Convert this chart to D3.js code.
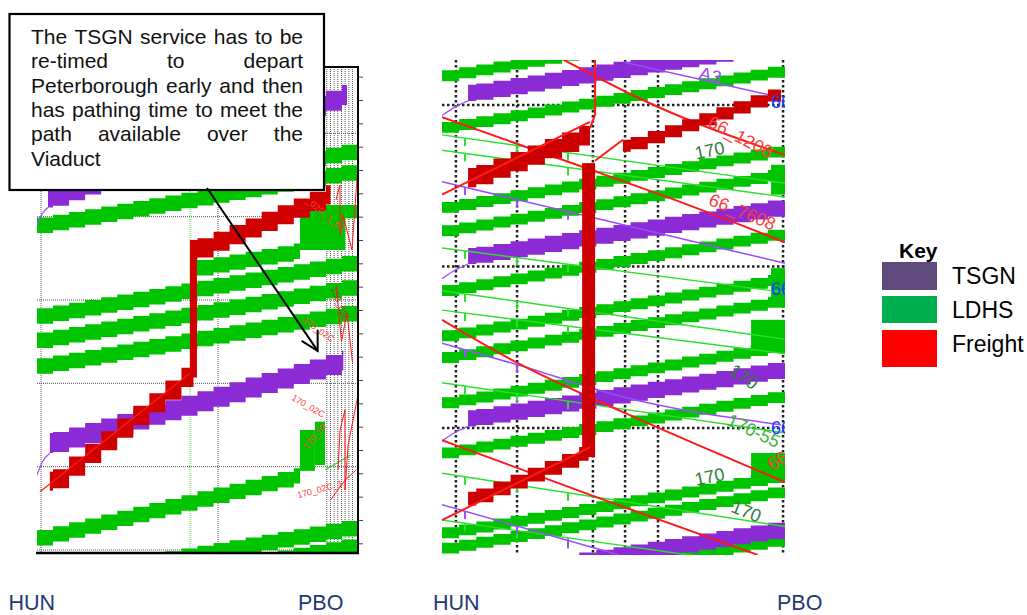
<!DOCTYPE html>
<html>
<head>
<meta charset="utf-8">
<script src="https://cdn.jsdelivr.net/npm/d3@7/dist/d3.min.js"></script>
<style>
html,body{margin:0;padding:0;background:#fff;}
svg{display:block;}
text{font-family:"Liberation Sans",Arial,Helvetica,sans-serif;}
</style>
</head>
<body>
<svg id="chart" width="1027" height="615"></svg>
<script>
// ================= DATA (miles from HUN, minutes) =================
const stationNames = ["HUN", "PBO"];
const routeMiles = [0, 17.5];
const stairMiles = [0, 0.875, 1.75, 2.625, 3.5, 4.375, 5.25, 6.125, 7, 7.875, 8.75,
  9.625, 10.5, 11.375, 12.25, 13.125, 14, 14.875, 15.75, 16.625, 17.5];

// ---- left panel ----
const leftGridTimes = [10, 20, 30, 40, 50, 60];
const leftGridMiles = [0.22, 9.87, 15.8, 16.0, 16.2, 16.4, 16.6, 16.8, 17.0, 17.2];
const leftTimingPointMiles = [8.34];
const leftEdgeTicks = [3.2, 6.0, 8.8, 11.6, 14.4, 17.2, 20.0, 22.8, 25.6, 28.4, 31.2,
  34.0, 36.8, 39.6, 42.4, 45.2, 48.0, 50.8, 53.6, 56.4, 59.2];
const leftLdhsPaths = [
  [[0, 20.1], [17.5, 13.5]],
  [[9.0, 14.6], [17.5, 11.0]],
  [[8.7, 25.2], [14.34, 23.1]],
  [[0, 31.0], [17.5, 24.4]],
  [[0, 33.9], [17.5, 27.3]],
  [[0, 37.0], [17.5, 30.4]],
  [[0, 57.6], [14.34, 50.0]],
  [[0, 62.8], [17.5, 56.2]],
  [[0, 65.0], [17.5, 58.4]]
];
const leftLdhsBlocks = [[14.34, 16.8, 18.6, 24.0], [16.8, 17.5, 18.6, 20.2],
  [14.34, 15.15, 45.6, 50.5], [15.15, 15.7, 44.6, 49.8]];
const leftTsgnPaths = [
  [[0.6, 16.5], [16.9, 4.0]],
  [[0.7, 45.96], [16.7, 36.0]]
];
const leftTsgnLeads = [
  [[0, 21.0], [0.3, 19.6], [0.6, 18.9]],
  [[0, 51.0], [0.3, 49.4], [0.7, 48.4]]
];
const leftFreightPath = [[0.7, 50.6], [8.53, 37.0], [8.53, 22.8], [16.0, 16.0]];
const leftPlannedFreight = [[0.16, 53.0], [8.34, 38.8]];
const leftRedTraces = [
  [[17.5, 13.8], [16.52, 16.2], [16.3, 18.0], [16.68, 19.8], [16.52, 22.2], [17.17, 24.0]],
  [[17.5, 41.4], [16.79, 43.2], [16.52, 45.6], [16.96, 47.4], [16.41, 50.4], [16.79, 52.8], [17.5, 54.0]],
  [[16.0, 54.0], [16.8, 51.6], [17.4, 50.4]],
  [[16.3, 28.0], [16.9, 31.5], [16.6, 35.0], [17.2, 37.5]]
];
const leftGreenTraces = [[[15.7, 50.4], [17.1, 48.6]]];
const leftArrowTarget = [15.3, 36.1];
const leftLabels = [
  [15.32, 33.6, "170_02C"], [14.77, 42.8, "170_02C"], [15.16, 46.4, "170_02"],
  [15.43, 52.8, "170_02C_1"], [15.7, 19.8, "_02C_1_02"], [16.5, 30.6, "153_02G"]
];

// ---- right panel ----
const rightGridTimes = [20, 40, 60];
const rightGridMiles = [0.71, 3.83, 7.7, 9.34, 11.02, 17.4];
const rightLdhsPaths = [
  [[0, 15.7], [17.5, 8.5]], [[0, 22.1], [17.5, 14.9]], [[0, 32.0], [17.5, 24.8]],
  [[0, 34.9], [17.5, 27.7]], [[0, 42.3], [17.5, 35.1]], [[0, 47.9], [17.5, 40.7]],
  [[0, 50.6], [17.5, 43.4]], [[0, 56.2], [17.5, 49.0]], [[0, 62.4], [17.5, 55.2]],
  [[0, 72.3], [17.5, 65.1]], [[0, 74.2], [17.5, 67.0]], [[0, 80.2], [17.5, 73.0]]
];
const rightLdhsBlocks = [[16.79, 17.5, 27.4, 31.1], [16.79, 17.5, 40.2, 44.8],
  [15.77, 17.5, 46.6, 50.3], [15.77, 17.5, 63.1, 66.4]];
const rightTsgnPaths = [
  [[1.33, 17.5], [17.5, 11.3]], [[1.33, 37.7], [17.5, 31.5]],
  [[1.33, 57.8], [17.5, 51.6]], [[1.33, 77.6], [17.5, 71.4]]
];
const rightTsgnLeads = [
  [[0, 21.3], [0.7, 20.2], [1.33, 19.5]],
  [[0, 41.5], [0.7, 40.4], [1.33, 39.7]],
  [[0, 61.6], [0.7, 60.5], [1.33, 59.8]]
];
const rightFreightPaths = [
  [[1.33, 27.8], [7.55, 22.1]],
  [[1.33, 67.9], [7.48, 61.9], [7.48, 27.2]],
  [[9.23, 24.3], [17.3, 17.5]]
];
const rightFreightOccupation = [2.4, 1.7, 1.5];
const rightRedConnectors = [
  [[7.55, 22.9], [7.81, 21.2], [7.81, 14.0]],
  [[7.81, 26.9], [9.23, 24.3]],
  [[0, 31.1], [7.55, 22.1]],
  [[0, 71.4], [7.55, 62.4]]
];
const rightRedTraces = [
  [[0, 21.5], [4.4, 25.3], [7.8, 28.2], [11.7, 31.6], [17.5, 37.0]],
  [[6.2, 14.4], [10.8, 20.0], [17.5, 26.2]],
  [[0, 46.6], [3.9, 52.0], [9.3, 58.1], [17.5, 66.7]],
  [[0, 61.5], [7.8, 68.5], [16.1, 75.7]]
];
const rightPurpleTraces = [
  [[0, 29.5], [7.8, 34.0], [17.5, 39.6]],
  [[9.3, 14.7], [16.8, 18.8]],
  [[0, 49.5], [3.9, 52.2], [9.3, 56.2], [17.3, 59.6]],
  [[0, 69.5], [9.0, 75.7]]
];
const rightGreenTraces = [
  [[0, 23.7], [17.5, 29.7]], [[0, 25.6], [17.5, 31.4]], [[0, 37.7], [17.5, 43.2]],
  [[0, 43.0], [17.5, 49.0]], [[0, 45.4], [17.5, 50.8]], [[0, 54.4], [17.5, 60.6]],
  [[0, 65.6], [17.5, 72.2]], [[0, 71.4], [17.5, 77.4]]
];
const traceTickMiles = [1.17, 3.83, 6.43];
const rightLabels = [
  [13.67, 25.8, "170"], [13.67, 66.2, "170"], [15.36, 53.8, "170"], [15.5, 70.5, "170"],
  [15.87, 60.5, "170-55"], [15.2, 24.1, "66_1208"], [15.3, 33.4, "66_7608"],
  [13.67, 16.5, "A3"], [17.14, 64.2, "66"], [17.3, 60.2, "66"], [17.3, 19.75, "66"], [17.3, 42.9, "66"]
];

// ---- key & annotation ----
const keyLabels = ["TSGN", "LDHS", "Freight"];
const keyColors = ["#604A7B", "#00B050", "#FF0000"];
const calloutLines = [
  "The TSGN service has to be",
  "re-timed to depart",
  "Peterborough early and then",
  "has pathing time to meet the",
  "path available over the",
  "Viaduct"
];

// ================= STYLE (layout & colours) =================
const COL = {
  ldhs: "#00C400", tsgn: "#8A2BD6", freight: "#CC0000",
  redLine: "#FF1A1A", greenLine: "#2BE02B", purpleLine: "#9A4CFF",
  darkGreen: "#2F7D3A", label: "#FF3B3B", blue: "#1A3CFF"
};
const leftLabelStyle = [[35, COL.label], [30, COL.label], [-50, COL.label], [-15, COL.label], [40, COL.label], [70, "#A33"]];
const rightLabelStyle = [
  [-12, COL.darkGreen], [-12, COL.darkGreen], [35, COL.darkGreen], [22, COL.darkGreen],
  [25, "#3CB43C"], [28, COL.label], [22, COL.label], [15, COL.purpleLine],
  [-30, COL.label], [0, COL.blue], [0, COL.blue], [0, COL.blue]
];
const stationLabelX = [[8.5, 298], [433, 777]];

const svg = d3.select("#chart");
const defs = svg.append("defs");
defs.append("clipPath").attr("id", "clipL").append("rect")
  .attr("x", 37).attr("y", 67).attr("width", 321).attr("height", 486);
defs.append("clipPath").attr("id", "clipR").append("rect")
  .attr("x", 442).attr("y", 60).attr("width", 343).attr("height", 495);

const xL = d3.scaleLinear().domain(routeMiles).range([37, 358]);
const yL = d3.scaleLinear().domain([10, 60]).range([133.33, 550]);
const xR = d3.scaleLinear().domain(routeMiles).range([442, 785]);
const yR = d3.scaleLinear().domain([20, 60]).range([105, 428]);

function stairBand(g, xs, ys, pts, w, color, barW) {
  for (let i = 0; i < pts.length - 1; i++) {
    const [m0, t0] = pts[i], [m1, t1] = pts[i + 1];
    if (m0 === m1) {
      const tTop = Math.min(t0, t1), tBot = Math.max(t0, t1) + w;
      g.append("rect").attr("x", xs(m0) - barW / 2).attr("width", barW)
        .attr("y", ys(tTop)).attr("height", ys(tBot) - ys(tTop)).attr("fill", color);
      continue;
    }
    const lo = Math.min(m0, m1), hi = Math.max(m0, m1);
    const ms = [lo, ...stairMiles.filter(s => s > lo + 0.05 && s < hi - 0.05), hi];
    const pos = ms.map(m => ({ m, t: t0 + (t1 - t0) * (m - m0) / (m1 - m0) }));
    g.append("path").datum(pos)
      .attr("d", d3.area().x(d => xs(d.m)).y0(d => ys(d.t)).y1(d => ys(d.t + w)).curve(d3.curveStepAfter))
      .attr("fill", color);
  }
}
function blocks(g, xs, ys, data, color) {
  g.selectAll(null).data(data).enter().append("rect")
    .attr("x", d => xs(d[0])).attr("width", d => xs(d[1]) - xs(d[0]))
    .attr("y", d => ys(d[2])).attr("height", d => ys(d[3]) - ys(d[2]))
    .attr("fill", color);
}
function traces(g, xs, ys, data, color, width, curved) {
  const ln = d3.line().x(d => xs(d[0])).y(d => ys(d[1])).curve(curved ? d3.curveMonotoneX : d3.curveLinear);
  g.selectAll(null).data(data).enter().append("path")
    .attr("d", d => ln(d.slice().sort((a, b) => a[0] - b[0])))
    .attr("fill", "none").attr("stroke", color).attr("stroke-width", width);
}
function traceTicks(g, xs, ys, data, color) {
  data.forEach(p => {
    traceTickMiles.forEach(m => {
      if (m <= p[0][0] || m >= p[p.length - 1][0]) return;
      let t = null;
      for (let i = 0; i < p.length - 1; i++) {
        if (m >= p[i][0] && m <= p[i + 1][0]) t = p[i][1] + (p[i + 1][1] - p[i][1]) * (m - p[i][0]) / (p[i + 1][0] - p[i][0]);
      }
      if (t === null) return;
      g.append("line").attr("x1", xs(m)).attr("x2", xs(m)).attr("y1", ys(t)).attr("y2", ys(t) + 8)
        .attr("stroke", color).attr("stroke-width", 2);
    });
  });
}
function labels(g, xs, ys, data, style, size) {
  data.forEach((d, i) => {
    g.append("text").attr("transform", `translate(${xs(d[0])},${ys(d[1])}) rotate(${style[i][0]})`)
      .attr("text-anchor", "middle").attr("dominant-baseline", "middle")
      .attr("font-size", size).attr("fill", style[i][1]).text(d[2]);
  });
}

// ================= LEFT PANEL =================
const gL = svg.append("g").attr("clip-path", "url(#clipL)");
gL.selectAll(null).data(leftGridTimes).enter().append("line")
  .attr("x1", 37).attr("x2", 358).attr("y1", d => yL(d)).attr("y2", d => yL(d))
  .attr("stroke", "#555").attr("stroke-width", 1).attr("stroke-dasharray", "1,1");
gL.selectAll(null).data(leftGridMiles).enter().append("line")
  .attr("x1", d => xL(d)).attr("x2", d => xL(d)).attr("y1", 67).attr("y2", 553)
  .attr("stroke", "#555").attr("stroke-width", 1).attr("stroke-dasharray", "1,1");
gL.selectAll(null).data(leftTimingPointMiles).enter().append("line")
  .attr("x1", d => xL(d)).attr("x2", d => xL(d)).attr("y1", 67).attr("y2", 553)
  .attr("stroke", "#33DD33").attr("stroke-width", 1).attr("stroke-dasharray", "1,1");

leftLdhsPaths.forEach(p => stairBand(gL, xL, yL, p, 1.85, COL.ldhs, 7));
blocks(gL, xL, yL, leftLdhsBlocks, COL.ldhs);
leftTsgnPaths.forEach(p => stairBand(gL, xL, yL, p, 2.4, COL.tsgn, 7));
traces(gL, xL, yL, leftTsgnLeads, COL.purpleLine, 1.2, true);
traces(gL, xL, yL, leftGreenTraces, COL.greenLine, 1.2, false);
traces(gL, xL, yL, leftRedTraces, COL.redLine, 1, false);
stairBand(gL, xL, yL, leftFreightPath, 2.3, "#D00000", 7);
traces(gL, xL, yL, [leftPlannedFreight], COL.redLine, 1.3, false);
labels(gL, xL, yL, leftLabels, leftLabelStyle, 9);

// frame
const frame = svg.append("g");
frame.append("line").attr("x1", 36).attr("x2", 359).attr("y1", 67).attr("y2", 67).attr("stroke", "#000").attr("stroke-width", 2);
frame.append("line").attr("x1", 358).attr("x2", 358).attr("y1", 66).attr("y2", 554).attr("stroke", "#000").attr("stroke-width", 2);
frame.append("line").attr("x1", 36).attr("x2", 359).attr("y1", 553).attr("y2", 553).attr("stroke", "#000").attr("stroke-width", 2.5);
const edgeAxis = frame.append("g").attr("transform", "translate(359,0)")
  .call(d3.axisRight(yL).tickValues(leftEdgeTicks).tickSize(4).tickFormat(""));
edgeAxis.select(".domain").remove();
edgeAxis.selectAll("line").attr("stroke", "#444");

// ================= RIGHT PANEL =================
const gR = svg.append("g").attr("clip-path", "url(#clipR)");
gR.selectAll(null).data(rightGridTimes).enter().append("line")
  .attr("x1", 442).attr("x2", 785).attr("y1", d => yR(d)).attr("y2", d => yR(d))
  .attr("stroke", "#222").attr("stroke-width", 2.5).attr("stroke-dasharray", "2.5,2.5");
gR.selectAll(null).data(rightGridMiles).enter().append("line")
  .attr("x1", d => xR(d)).attr("x2", d => xR(d)).attr("y1", 60).attr("y2", 555)
  .attr("stroke", "#222").attr("stroke-width", 2.5).attr("stroke-dasharray", "2.5,2.5");

rightLdhsPaths.forEach(p => stairBand(gR, xR, yR, p, 1.35, COL.ldhs, 7));
blocks(gR, xR, yR, rightLdhsBlocks, COL.ldhs);
rightTsgnPaths.forEach(p => stairBand(gR, xR, yR, p, 2.0, COL.tsgn, 7));
traces(gR, xR, yR, rightTsgnLeads, COL.purpleLine, 1.3, true);
traces(gR, xR, yR, rightGreenTraces, COL.greenLine, 1.4, false);
traceTicks(gR, xR, yR, rightGreenTraces, COL.greenLine);
traces(gR, xR, yR, rightPurpleTraces, COL.purpleLine, 1.5, true);
traceTicks(gR, xR, yR, rightPurpleTraces, COL.purpleLine);
traces(gR, xR, yR, rightRedTraces, COL.redLine, 2, true);
rightFreightPaths.forEach((p, i) => stairBand(gR, xR, yR, p, rightFreightOccupation[i], COL.freight, 13));
traces(gR, xR, yR, rightRedConnectors, COL.redLine, 2, false);
labels(gR, xR, yR, rightLabels, rightLabelStyle, 18);

// ================= STATION LABELS =================
const stLab = svg.append("g").attr("font-size", 21.5).attr("fill", "#1F3A73");
stationLabelX.forEach(panel => {
  stationNames.forEach((s, i) => {
    stLab.append("text").attr("x", panel[i]).attr("y", 609.5).text(s);
  });
});

// ================= KEY =================
const key = svg.append("g");
key.append("text").attr("x", 899).attr("y", 258).attr("font-size", 21).attr("font-weight", "bold").attr("fill", "#000").text("Key");
const swY = [262, 296, 330], swH = [28, 27, 37];
keyLabels.forEach((k, i) => {
  key.append("rect").attr("x", 882).attr("y", swY[i]).attr("width", 55).attr("height", swH[i]).attr("fill", keyColors[i]);
  key.append("text").attr("x", 952).attr("y", [284, 318, 352][i]).attr("font-size", 23).attr("fill", "#000").text(k);
});

// ================= CALLOUT =================
const call = svg.append("g");
call.append("rect").attr("x", 9.5).attr("y", 14).attr("width", 314.5).attr("height", 176)
  .attr("fill", "#fff").attr("stroke", "#000").attr("stroke-width", 2.2);
const tx0 = 31, tx1 = 303, ty0 = 44, tdy = 24.3, fs = 21;
calloutLines.forEach((line, i) => {
  const t = call.append("text").attr("y", ty0 + i * tdy).attr("font-size", fs).attr("fill", "#111");
  const words = line.split(" ");
  if (i === calloutLines.length - 1 || words.length < 2) { t.attr("x", tx0).text(line); return; }
  const widths = words.map(w => {
    const tmp = call.append("text").attr("font-size", fs).text(w);
    const wd = tmp.node().getComputedTextLength(); tmp.remove(); return wd;
  });
  const gap = (tx1 - tx0 - d3.sum(widths)) / (words.length - 1);
  let x = tx0;
  words.forEach((w, j) => { t.append("tspan").attr("x", x).text(w); x += widths[j] + gap; });
});
// arrow to the re-timed TSGN path
const tipX = xL(leftArrowTarget[0]), tipY = yL(leftArrowTarget[1]);
call.append("line").attr("x1", 207).attr("y1", 188).attr("x2", tipX).attr("y2", tipY)
  .attr("stroke", "#000").attr("stroke-width", 2);
call.append("path").attr("d", `M${tipX - 16},${tipY - 10}L${tipX},${tipY}L${tipX},${tipY - 21}`)
  .attr("fill", "none").attr("stroke", "#000").attr("stroke-width", 2);
</script>
</body>
</html>
